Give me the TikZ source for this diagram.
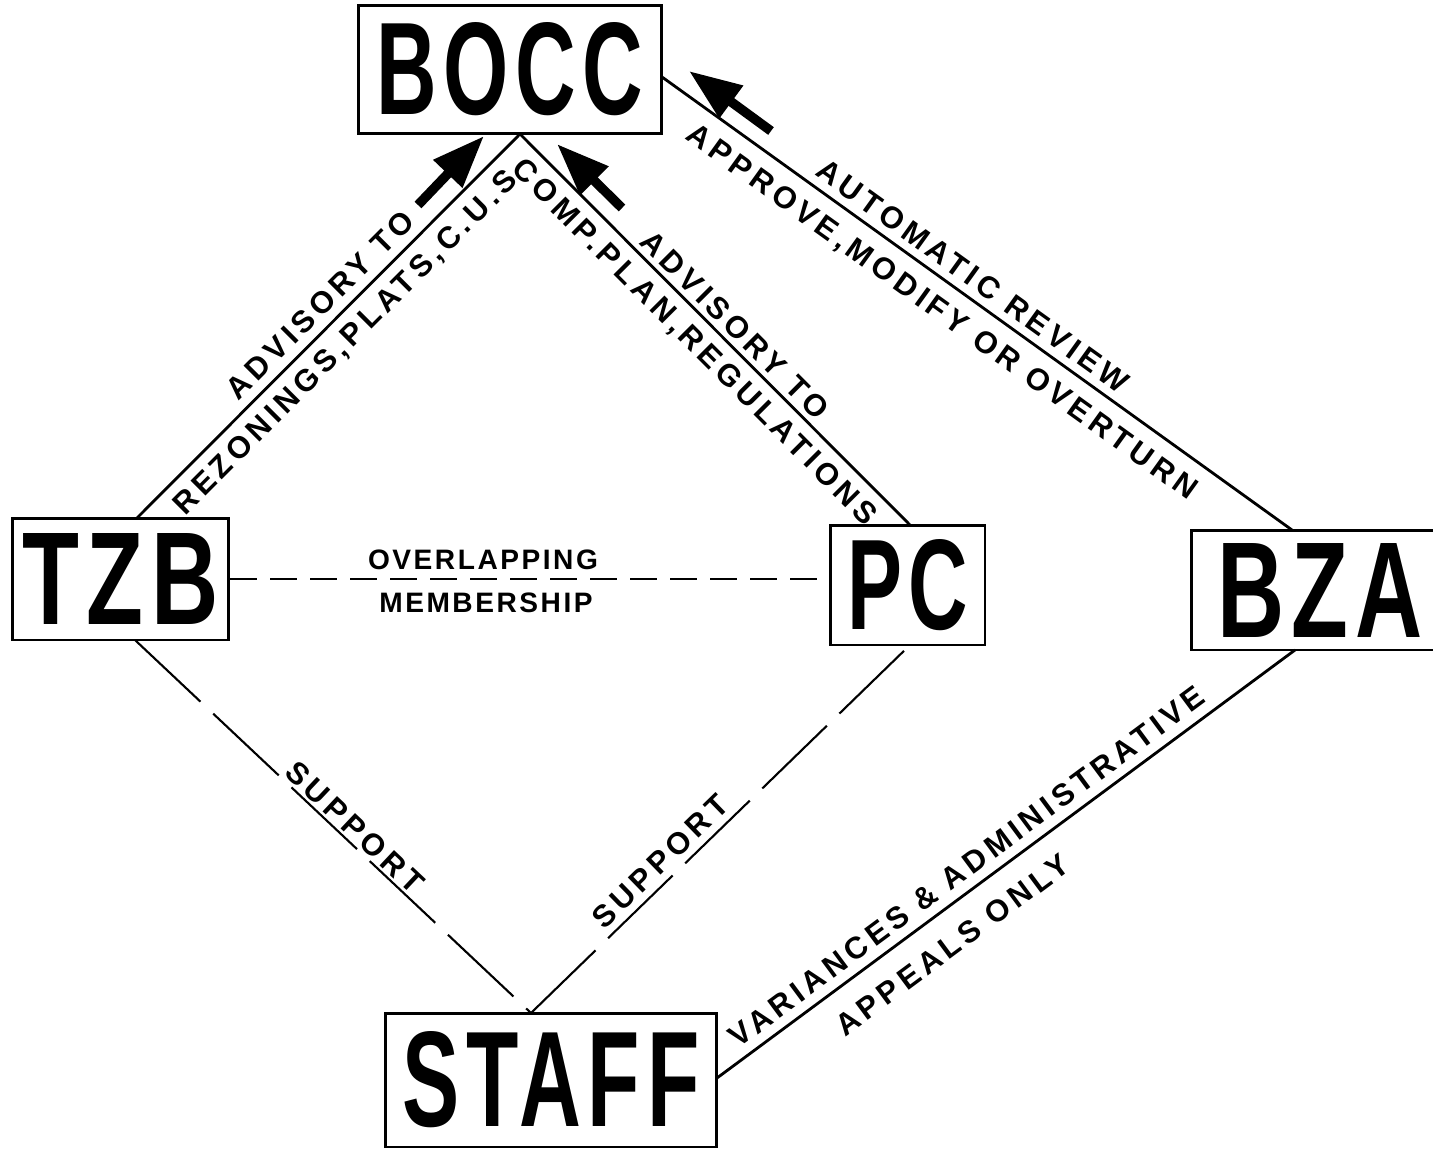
\documentclass[tikz,border=0pt]{standalone}
\usepackage{fontspec}
\usepackage{graphicx}
\setmainfont{Liberation Sans}
\newfontfamily\lblfont{Liberation Sans}[LetterSpace=15]
\newfontfamily\hlblfont{Liberation Sans}[LetterSpace=9]
\newfontfamily\boxfont{Liberation Sans}[LetterSpace=8]
\usetikzlibrary{calc,arrows.meta}
\newcommand{\boxword}[3]{\resizebox{#1}{#2}{\boxfont\bfseries #3}}
\begin{document}
\begin{tikzpicture}[x=0.02cm,y=-0.02cm,
  boxnode/.style={draw, line width=1.7pt, inner sep=0pt, fill=white},
  lbl/.style={font=\lblfont\bfseries\fontsize{17.5}{20}\selectfont, inner sep=0pt, sloped},
  hlbl/.style={font=\hlblfont\bfseries\fontsize{16}{19}\selectfont, inner sep=0pt},
  solidlink/.style={line width=1.6pt},
  ovlink/.style={line width=1.3pt, dash pattern=on 0.54cm off 0.26cm},
  suplink/.style={line width=1.2pt, dash pattern=on 1.8cm off 0.35cm},
  bigarrow/.style={line width=0.19cm, -{Triangle[length=1.05cm,width=0.76cm]}}
]
\useasboundingbox (0,0) rectangle (1433,1149);
\clip (0,0) rectangle (1433,1149);

% connector end points on the box borders
\coordinate (tzbN) at (137,518);
\coordinate (boccS) at (520,134);
\coordinate (pcN) at (910,525);
\coordinate (boccE) at (662,77);
\coordinate (bzaN) at (1292,530);
\coordinate (tzbS) at (135,640);
\coordinate (staffN) at (531,1013);
\coordinate (pcS) at (910,645);
\coordinate (staffE) at (717,1078);
\coordinate (bzaS) at (1295,650);

% boxes
\node[boxnode, minimum width=6.08cm, minimum height=2.58cm] (bocc) at (510,69.5) {\boxword{5.34cm}{1.84cm}{BOCC}};
\node[boxnode, minimum width=4.34cm, minimum height=2.44cm] (tzb) at (120.5,579) {\boxword{3.92cm}{1.82cm}{TZB}};
\node[boxnode, minimum width=3.10cm, minimum height=2.40cm] (pc) at (907.5,585) {\boxword{2.42cm}{1.80cm}{PC}};
\node[boxnode, minimum width=5.16cm, minimum height=2.40cm] (bza) at (1320,590) {\boxword{4.12cm}{1.88cm}{BZA}};
\node[boxnode, minimum width=6.64cm, minimum height=2.68cm] (staff) at (551,1080) {\boxword{5.94cm}{1.90cm}{STAFF}};

\draw[solidlink] (tzbN) --
  node[lbl, pos=0.517, above=0.17cm] {ADVISORY TO}
  node[lbl, pos=0.50, below=0.21cm] {REZONINGS,PLATS,C.U.S}
  (boccS);
\draw[solidlink] (boccS) --
  node[lbl, pos=0.52, above=0.10cm] {ADVISORY TO}
  node[lbl, pos=0.49, below=0.20cm] {COMP.PLAN,REGULATIONS}
  (pcN);
\draw[solidlink] (boccE) --
  node[lbl, pos=0.475, above=0.15cm] {AUTOMATIC REVIEW}
  node[lbl, pos=0.47, below=0.28cm] {APPROVE,MODIFY OR OVERTURN}
  (bzaN);
\draw[ovlink] (tzb.east) -- (tzb.east -| pc.west);
\draw[suplink] (tzbS) --
  node[lbl, pos=0.53, above=0.05cm] {SUPPORT}
  (staffN);
\draw[suplink] (staffN) --
  node[lbl, pos=0.375, above=0.14cm] {SUPPORT}
  (pcS);
\draw[solidlink] (staffE) --
  node[lbl, pos=0.454, above=0.18cm] {VARIANCES \& ADMINISTRATIVE}
  node[lbl, pos=0.373, below=0.42cm] {APPEALS ONLY}
  (bzaS);

\node[hlbl] (ovl) at (483,560) {OVERLAPPING};
\node[hlbl] (mem) at (486,603) {MEMBERSHIP};

% thick arrows
\coordinate (a1s) at (418,205); \coordinate (a1e) at (484,136);
\coordinate (a2s) at (622,208); \coordinate (a2e) at (557,144);
\coordinate (a3s) at (771,131); \coordinate (a3e) at (689,71);
\draw[bigarrow] (a1s) -- (a1e);
\draw[bigarrow] (a2s) -- (a2e);
\draw[bigarrow] (a3s) -- (a3e);
\end{tikzpicture}
\end{document}
